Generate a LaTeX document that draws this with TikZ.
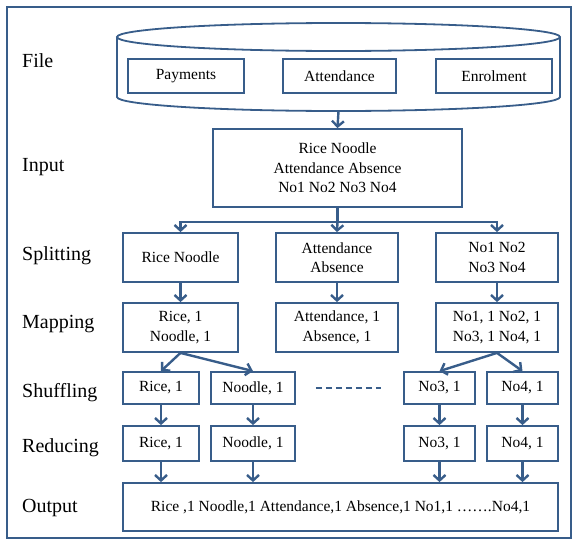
\documentclass[tikz,border=0pt]{standalone}
\usepackage{fontspec}
\setmainfont{Liberation Serif}
\usetikzlibrary{arrows.meta,positioning}
\definecolor{boxblue}{RGB}{56,93,138}

\begin{document}
\begin{tikzpicture}[x=1pt,y=-1pt,
  box/.style={draw=boxblue,line width=1.8pt,align=center,inner sep=1pt,
    font=\fontsize{15.5}{19.5}\selectfont},
  stage/.style={anchor=base west,inner sep=0pt,font=\fontsize{20}{24}\selectfont},
  flow/.style={draw=boxblue,line width=2.4pt,-{Straight Barb[length=5.5pt,width=12pt]}}]
\useasboundingbox (0,0) rectangle (573,541);
\draw[boxblue,line width=1.8pt] (7,7) rectangle (571,538);

% stage names down the left side
\node[stage] (lab_file) at (22,67) {File};
\node[stage] (lab_in) at (22,171) {Input};
\node[stage] (lab_split) at (22,260) {Splitting};
\node[stage] (lab_map) at (22,328) {Mapping};
\node[stage] (lab_shuf) at (22,397) {Shuffling};
\node[stage] (lab_red) at (22,452) {Reducing};
\node[stage] (lab_out) at (22,512) {Output};

% the file store
\draw[boxblue,line width=1.8pt] (117,37) -- (117,97)
  arc[start angle=180,end angle=0,x radius=221.5,y radius=14] -- (560,37);
\draw[boxblue,line width=1.8pt] (338.5,37) ellipse [x radius=221.5,y radius=14];
\coordinate (file_bot) at (338.5,111);
\node[box,minimum width=116pt,minimum height=34pt] (file_pay) at (186,76) {Payments};
\node[box,minimum width=113pt,minimum height=34pt] (file_att) at (339.5,76) {Attendance};
\node[box,minimum width=116pt,minimum height=34pt] (file_enr) at (494,76) {Enrolment};

% input
\node[box,minimum width=249pt,minimum height=78pt] (in_box) at (337.5,168)
  {Rice Noodle\\Attendance Absence\\No1 No2 No3 No4};

% splitting
\node[box,minimum width=115pt,minimum height=49pt] (split_left) at (180.5,257.5) {Rice Noodle};
\node[box,minimum width=122pt,minimum height=49pt] (split_mid) at (337,257.5) {Attendance\\Absence};
\node[box,minimum width=122pt,minimum height=49pt] (split_right) at (497,257.5) {No1 No2\\No3 No4};

% mapping
\node[box,minimum width=115pt,minimum height=49pt] (map_left) at (180.5,327.5) {Rice, 1\\Noodle, 1};
\node[box,minimum width=122pt,minimum height=49pt] (map_mid) at (337,327.5) {Attendance, 1\\Absence, 1};
\node[box,minimum width=122pt,minimum height=49pt] (map_right) at (497,327.5) {No1, 1 No2, 1\\No3, 1 No4, 1};

% shuffling
\node[box,minimum width=76pt,minimum height=32pt] (shuf_rice) at (161,388) {Rice, 1};
\node[box,minimum width=84pt,minimum height=32pt] (shuf_noodle) at (253,388) {Noodle, 1};
\node[box,minimum width=71pt,minimum height=32pt] (shuf_no3) at (439.5,388) {No3, 1};
\node[box,minimum width=71pt,minimum height=32pt] (shuf_no4) at (522.5,388) {No4, 1};
\draw[boxblue,line width=2.6pt,dash pattern=on 6.5pt off 3.5pt]
  ([xshift=20pt]shuf_noodle.east) -- ([xshift=-22pt]shuf_no3.west);

% reducing
\node[box,minimum width=76pt,minimum height=35pt] (red_rice) at (161,443.5) {Rice, 1};
\node[box,minimum width=84pt,minimum height=35pt] (red_noodle) at (253,443.5) {Noodle, 1};
\node[box,minimum width=71pt,minimum height=35pt] (red_no3) at (439.5,443.5) {No3, 1};
\node[box,minimum width=71pt,minimum height=35pt] (red_no4) at (522.5,443.5) {No4, 1};

% output
\node[box,minimum width=435pt,minimum height=48pt] (out_box) at (340.5,507)
  {Rice ,1 Noodle,1 Attendance,1 Absence,1 No1,1 …….No4,1};

% arrows
\draw[flow] (file_bot) -- (in_box.north);
\draw[boxblue,line width=2.4pt] (in_box.south) -- ++(0,14) coordinate (bus);
\draw[flow] (bus) -| (split_left.north);
\draw[flow] (bus) -| (split_right.north);
\draw[flow] (bus) -- (split_mid.north);
\foreach \s in {left,mid,right}
  \draw[flow] (split_\s.south) -- (map_\s.north);
\draw[flow] (map_left.south) -- (shuf_rice.north);
\draw[flow] (map_left.south) -- (shuf_noodle.north);
\draw[flow] (map_right.south) -- (shuf_no3.north);
\draw[flow] (map_right.south) -- (shuf_no4.north);
\foreach \s in {rice,noodle,no3,no4}{
  \draw[flow] (shuf_\s.south) -- (red_\s.north);
  \draw[flow] (red_\s.south) -- (red_\s.south |- out_box.north);
}
\end{tikzpicture}
\end{document}
